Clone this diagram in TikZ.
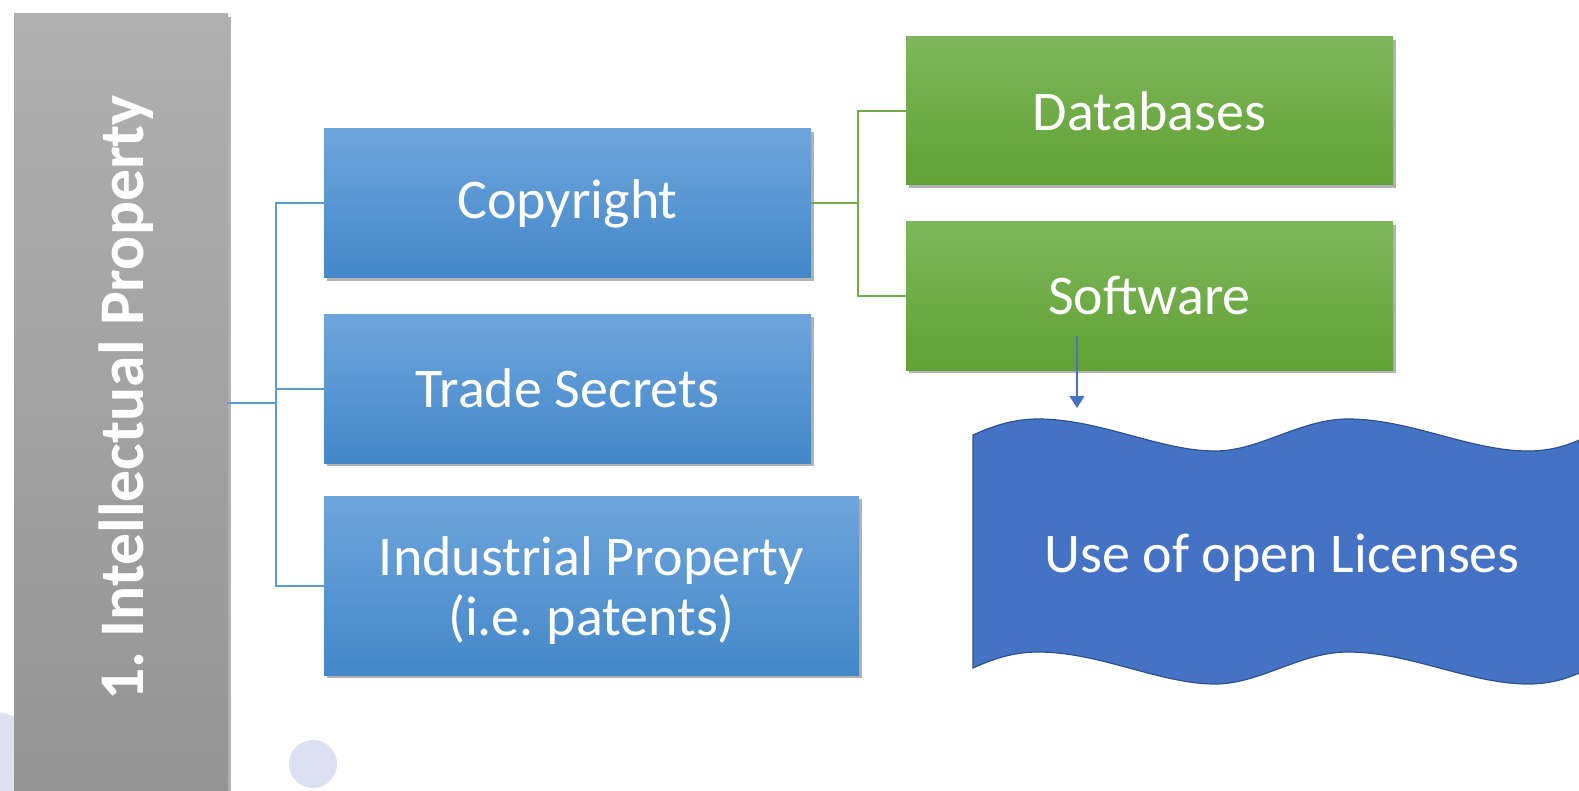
\documentclass[tikz,border=0pt]{standalone}
\usepackage{fontspec}
\setmainfont{Carlito}
\usetikzlibrary{arrows.meta,shadows}
\frenchspacing

\definecolor{bartop}{HTML}{B0B0B0}
\definecolor{barbot}{HTML}{949494}
\definecolor{bluetop}{HTML}{6EA5DC}
\definecolor{bluebot}{HTML}{4387C9}
\definecolor{greentop}{HTML}{7EB75B}
\definecolor{greenbot}{HTML}{62A134}
\definecolor{blueline}{HTML}{5B9BD5}
\definecolor{greenline}{HTML}{70AD47}
\definecolor{wavefill}{HTML}{4472C4}
\definecolor{waveedge}{HTML}{2F528F}
\definecolor{dotfill}{HTML}{DCE0F2}

\begin{document}
\begin{tikzpicture}[x=0.5pt,y=-0.5pt,
    every node/.style={inner sep=0pt,text=white,align=center,
        font=\fontsize{28}{30}\selectfont},
    boxshadow/.style={drop shadow={shadow xshift=1.5pt,shadow yshift=-1.5pt,
        opacity=0.3,fill=black}},
    bluebox/.style={rectangle,top color=bluetop,bottom color=bluebot,boxshadow,
        minimum width=243.5pt,minimum height=74.5pt},
    greenbox/.style={rectangle,top color=greentop,bottom color=greenbot,boxshadow,
        minimum width=243.5pt,minimum height=74pt},
    bline/.style={draw=blueline,line width=1pt},
    gline/.style={draw=greenline,line width=1pt}]
    \useasboundingbox (0,0) rectangle (1579,791);
    \clip (0,0) rectangle (1579,791);

    % faint dots in the back
    \fill[dotfill] (-20,800) circle (90);
    \fill[dotfill] (313,764) circle (24);

    % left bar
    \node[rectangle,top color=bartop,bottom color=barbot,boxshadow,
        minimum width=107pt,minimum height=389pt] (bar) at (121,403) {};
    \node[rotate=90,font=\bfseries\fontsize{31.8}{34}\selectfont] (ttl) at (126,398)
        {1. Intellectual Property};

    % branches
    \node[bluebox] (cop) at (567.5,203.5) {Copyright};
    \node[bluebox] (trd) at (567.5,388.5) {Trade Secrets};
    \node[bluebox,minimum width=267.5pt,minimum height=89.5pt,
        label={[yshift=-2.5pt]center:Industrial Property\\(i.e. patents)}]
        (ind) at (591.5,585.5) {};

    \node[greenbox] (dat) at (1149.5,111) {Databases};
    \node[greenbox] (sw) at (1149.5,296) {Software};

    \coordinate (bj) at (276,403);
    \coordinate (gj) at (858,203.5);
    \draw[bline] (bar.east) -- (bj);
    \foreach \n in {cop,trd,ind}
        \draw[bline] (bj) |- (\n.west);
    \draw[gline] (cop.east) -- (gj);
    \foreach \n in {dat,sw}
        \draw[gline] (gj) |- (\n.west);

    % wave
    \filldraw[fill=wavefill,draw=waveedge,line width=0.6pt]
        (973,435) .. controls (995,425) and (1015,419) .. (1038,419)
        .. controls (1100,419) and (1160,451) .. (1215,451)
        .. controls (1260,451) and (1300,419) .. (1348,419)
        .. controls (1410,419) and (1470,451) .. (1528,451)
        .. controls (1560,451) and (1580,440) .. (1600,430)
        -- (1600,663)
        .. controls (1580,673) and (1560,684) .. (1528,684)
        .. controls (1470,684) and (1410,652) .. (1348,652)
        .. controls (1300,652) and (1260,684) .. (1215,684)
        .. controls (1160,684) and (1100,652) .. (1038,652)
        .. controls (1015,652) and (995,658) .. (973,668) -- cycle;
    \node (lic) at (1282,558) {Use of open Licenses};

    \coordinate (at) at (1077,336);
    \coordinate (ab) at (1077,408);
    \draw[wavefill,line width=0.6pt,-{Triangle[width=7.5pt,length=6pt]}] (at) -- (ab);
\end{tikzpicture}
\end{document}
